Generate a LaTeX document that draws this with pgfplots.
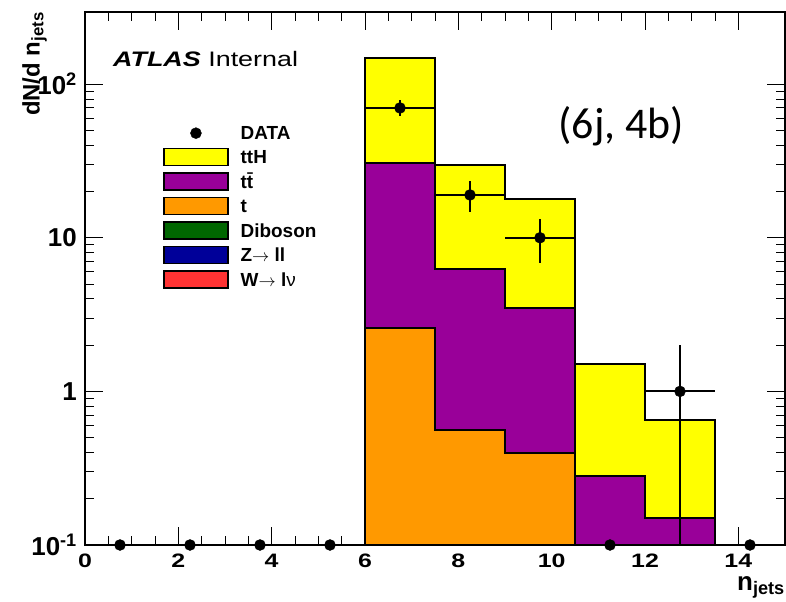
\documentclass[border=0pt]{standalone}
\usepackage{fontspec}
\setmainfont{Liberation Sans}
\newfontfamily\calibri{Carlito}
\usepackage{graphicx}
\usepackage{pgfplots}
\pgfplotsset{compat=1.18}
\definecolor{ttHc}{RGB}{255,255,0}
\definecolor{ttbarc}{RGB}{153,0,153}
\definecolor{topc}{RGB}{255,153,0}
\definecolor{dibc}{RGB}{0,102,0}
\definecolor{zllc}{RGB}{0,0,153}
\definecolor{wlvc}{RGB}{255,51,51}
\begin{document}
\begin{tikzpicture}
\path[use as bounding box] (0bp,0bp) rectangle (786bp,602bp);
\begin{axis}[
  at={(85bp,57bp)}, anchor=south west,
  scale only axis, width=700bp, height=533bp,
  ymode=log, xmin=0, xmax=15, ymin=0.1, ymax=295,
  clip=false,
  axis line style={line width=1.2bp},
  every tick/.style={black, line width=1bp},
  major tick length=18bp, minor tick length=9bp,
  xtick={0,2,4,6,8,10,12,14},
  xticklabels={0,2,4,6,8,10,12,14},
  minor x tick num=3,
  ytick={0.1,1,10,100},
  yticklabels={10\textsuperscript{-1},1,10,10\textsuperscript{2}},
  xticklabel style={font=\bfseries\fontsize{25}{25}\selectfont, inner sep=0pt, anchor=north, yshift=-9bp, yscale=0.78},
  yticklabel style={font=\bfseries\fontsize{26}{26}\selectfont, inner sep=0pt, anchor=east, xshift=-8bp},
  xlabel={n\textsubscript{jets}},
  xlabel style={at={(rel axis cs:1,0)}, anchor=north east, inner sep=0pt, yshift=-31bp, font=\bfseries\fontsize{26}{26}\selectfont},
  legend cell align=left,
  legend style={at={(0.1114,0.789)}, anchor=north west, draw=none, fill=none,
    inner sep=0pt, row sep=6bp, column sep=12bp,
    font=\bfseries\fontsize{19}{19}\selectfont,
    nodes={inner sep=0pt, text height=15.3bp, text depth=1.7bp}},
]
% stacked histograms: ttH (total), ttbar (+t), t
\addplot[fill=ttHc, draw=black, line width=2bp, forget plot, mark=none]
 coordinates {(6,0.1)(6,147)(7.5,147)(7.5,29.9)(9,29.9)(9,17.9)(10.5,17.9)(10.5,1.5)(12,1.5)(12,0.647)(13.5,0.647)(13.5,0.1)} -- cycle;
\addplot[fill=ttbarc, draw=black, line width=2bp, forget plot, mark=none]
 coordinates {(6,0.1)(6,30.7)(7.5,30.7)(7.5,6.25)(9,6.25)(9,3.51)(10.5,3.51)(10.5,0.281)(12,0.281)(12,0.150)(13.5,0.150)(13.5,0.1)} -- cycle;
\addplot[fill=topc, draw=black, line width=2bp, forget plot, mark=none]
 coordinates {(6,0.1)(6,2.57)(7.5,2.57)(7.5,0.557)(9,0.557)(9,0.40)(10.5,0.40)(10.5,0.1)} -- cycle;
% data
\addplot[only marks, mark=*, mark size=5.5bp, black, forget plot,
  error bars/.cd, x dir=both, x fixed=0.75, y dir=both, y explicit,
  error mark=none, error bar style={line width=2bp, black}]
 coordinates {
 (6.75,70) += (0,8.37) -= (0,8.37)
 (8.25,19) += (0,4.36) -= (0,4.36)
 (9.75,10) += (0,3.16) -= (0,3.16)
 (12.75,1) += (0,1) -= (0,0.9)
 };
\addplot[only marks, mark=*, mark size=5.5bp, black, forget plot,
  error bars/.cd, x dir=both, x fixed=0.75,
  error mark=none, error bar style={line width=2bp, black}]
 coordinates {(0.75,0.1)(2.25,0.1)(3.75,0.1)(5.25,0.1)(11.25,0.1)(14.25,0.1)};
% legend
\addlegendimage{legend image code/.code={\path[draw=none, fill=none] (0bp,-8.5bp) rectangle (64bp,8.5bp); \fill[black] (32bp,0bp) circle (5.5bp);}}
\addlegendentry{DATA}
\addlegendimage{legend image code/.code={\draw[line width=1.5bp, fill=ttHc] (0bp,-8.5bp) rectangle (64bp,8.5bp);}}
\addlegendentry{ttH}
\addlegendimage{legend image code/.code={\draw[line width=1.5bp, fill=ttbarc] (0bp,-8.5bp) rectangle (64bp,8.5bp);}}
\addlegendentry{t\={t}}
\addlegendimage{legend image code/.code={\draw[line width=1.5bp, fill=topc] (0bp,-8.5bp) rectangle (64bp,8.5bp);}}
\addlegendentry{t}
\addlegendimage{legend image code/.code={\draw[line width=1.5bp, fill=dibc] (0bp,-8.5bp) rectangle (64bp,8.5bp);}}
\addlegendentry{Diboson}
\addlegendimage{legend image code/.code={\draw[line width=1.5bp, fill=zllc] (0bp,-8.5bp) rectangle (64bp,8.5bp);}}
\addlegendentry{Z$\rightarrow$ ll}
\addlegendimage{legend image code/.code={\draw[line width=1.5bp, fill=wlvc] (0bp,-8.5bp) rectangle (64bp,8.5bp);}}
\addlegendentry{W$\rightarrow$ l{\mdseries ν}}
% texts
\node[anchor=north east, inner sep=0pt, font=\bfseries\fontsize{24}{24}\selectfont] at (rel axis cs:-0.0543,1) {\rotatebox{90}{dN/d n\textsubscript{jets}}};
\node[anchor=base west, inner sep=0pt, yscale=0.78, font=\fontsize{27}{27}\selectfont] at (rel axis cs:0.04,0.8974) {\textbf{\textit{ATLAS}} Internal};
\node[anchor=center, inner sep=0pt, font=\calibri\fontsize{44}{44}\selectfont] at (rel axis cs:0.766,0.785) {(6j, 4b)};
\end{axis}
\end{tikzpicture}
\end{document}
